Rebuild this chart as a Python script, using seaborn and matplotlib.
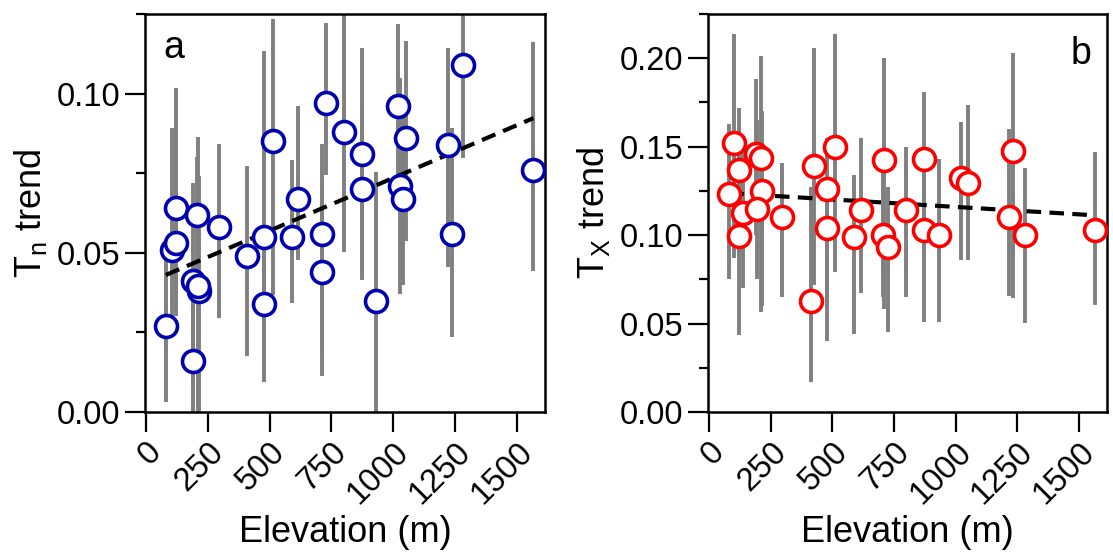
import numpy as np
import pandas as pd
import seaborn as sns
import matplotlib.pyplot as plt
from matplotlib.ticker import MultipleLocator, FormatStrFormatter

# ---------------------------------------------------------------
# Data: station elevation (m), trend and its interval
# ---------------------------------------------------------------
elev_tn = [80, 120, 208, 295, 104, 121, 189, 216, 212, 189, 410, 479, 479, 515, 616, 589,
           711, 711, 727, 801, 873, 873, 930, 1018, 1050, 1027, 1041, 1284, 1220, 1237, 1567]
tn_trend = [0.027, 0.064, 0.062, 0.058, 0.051, 0.053, 0.041, 0.038, 0.0396, 0.016, 0.049, 0.055,
            0.034, 0.085, 0.067, 0.055, 0.056, 0.044, 0.097, 0.088, 0.081, 0.070, 0.035, 0.096,
            0.086, 0.071, 0.067, 0.109, 0.084, 0.056, 0.076]
tn_lo = [0.003, 0.037, 0.045, 0.0296, 0.030, 0.030, 0.010, -0.005, -0.005, -0.010, 0.0176, 0.0095,
         0.012, 0.0368, 0.0478, 0.0343, 0.0114, 0.020, 0.0745, 0.0504, 0.0415, 0.045, -0.010, 0.0703,
         0.0536, 0.037, 0.040, 0.0798, 0.0455, 0.0235, 0.0444]
tn_hi = [0.051, 0.1016, 0.080, 0.0843, 0.0893, 0.0944, 0.072, 0.0742, 0.0865, 0.045, 0.0774, 0.1133,
         0.058, 0.1233, 0.0962, 0.0792, 0.0842, 0.070, 0.1222, 0.130, 0.1144, 0.095, 0.0753, 0.1217,
         0.1164, 0.105, 0.095, 0.135, 0.1144, 0.0892, 0.1163]

elev_tx = [82, 102, 122, 122, 136, 192, 210, 214, 196, 297, 414, 425, 479, 479, 512, 590, 616,
           710, 707, 725, 798, 871, 871, 931, 1023, 1050, 1215, 1234, 1281, 1565]
tx_trend = [0.1235, 0.152, 0.137, 0.0993, 0.1126, 0.1456, 0.1437, 0.125, 0.115, 0.110, 0.063, 0.139,
            0.126, 0.104, 0.150, 0.099, 0.1144, 0.1424, 0.100, 0.0933, 0.1144, 0.1433, 0.103, 0.100,
            0.1324, 0.1295, 0.110, 0.1475, 0.1003, 0.1027]
tx_lo = [0.0754, 0.0873, 0.090, 0.0436, 0.070, 0.100, 0.0568, 0.060, 0.075, 0.065, 0.017, 0.072,
         0.040, 0.060, 0.0789, 0.044, 0.067, 0.058, 0.065, 0.045, 0.065, 0.105, 0.051, 0.051,
         0.0857, 0.0857, 0.0653, 0.0646, 0.0504, 0.0606]
tx_hi = [0.1626, 0.2136, 0.172, 0.150, 0.155, 0.188, 0.2013, 0.170, 0.165, 0.141, 0.127, 0.2057,
         0.155, 0.148, 0.2136, 0.134, 0.155, 0.200, 0.135, 0.127, 0.1496, 0.181, 0.150, 0.1433,
         0.1637, 0.1735, 0.1598, 0.203, 0.1377, 0.147]

x_ticks = [0, 250, 500, 750, 1000, 1250, 1500]

df_tn = pd.DataFrame({"elev": elev_tn, "trend": tn_trend, "lo": tn_lo, "hi": tn_hi})
df_tx = pd.DataFrame({"elev": elev_tx, "trend": tx_trend, "lo": tx_lo, "hi": tx_hi})

# ---------------------------------------------------------------
# Style
# ---------------------------------------------------------------
sns.set_style("ticks")
plt.rcParams['font.family'] = ['Liberation Sans', 'DejaVu Sans']
plt.rcParams['mathtext.default'] = 'regular'
for key in ['text.color', 'axes.labelcolor', 'xtick.color', 'ytick.color', 'axes.edgecolor']:
    plt.rcParams[key] = 'black'

fig = plt.figure(figsize=(11.13, 5.55), dpi=100)
ax_a = fig.add_axes([0.1303, 0.2577, 0.3594, 0.7171])
ax_b = fig.add_axes([0.6361, 0.2577, 0.3585, 0.7171])


def draw_panel(ax, df, color, ylab, ymax, letter, letter_pos):
    # intervalos (barras cinzas)
    ax.vlines(df["elev"], df["lo"], df["hi"], color="#808080", lw=2.8, zorder=1)
    # reta de regressão tracejada
    sns.regplot(data=df, x="elev", y="trend", ax=ax, scatter=False, ci=None,
                line_kws=dict(color="black", lw=3, ls=(0, (3.5, 2)), zorder=2))
    # círculos abertos
    sns.scatterplot(data=df, x="elev", y="trend", ax=ax, marker="o", s=250,
                    facecolor="white", edgecolor=color, linewidth=2.6, zorder=3)

    ax.set_xlim(-4, 1614)
    ax.set_ylim(0, ymax)
    ax.set_xticks(x_ticks)
    ax.set_xticklabels([str(t) for t in x_ticks], rotation=45, ha="right",
                       rotation_mode="anchor")
    ax.yaxis.set_major_locator(MultipleLocator(0.05))
    ax.yaxis.set_minor_locator(MultipleLocator(0.025))
    ax.yaxis.set_major_formatter(FormatStrFormatter("%.2f"))
    ax.tick_params(axis="both", which="major", length=14.5, width=1.6, labelsize=23.5, pad=3)
    ax.tick_params(axis="y", which="minor", length=6.5, width=1.6)
    for sp in ax.spines.values():
        sp.set_linewidth(1.8)
    ax.set_xlabel("Elevation (m)", fontsize=26, labelpad=4)
    ax.set_ylabel(ylab, fontsize=26, labelpad=6)
    ax.text(letter_pos[0], letter_pos[1], letter, transform=ax.transAxes,
            fontsize=27, ha=letter_pos[2], va="top")


draw_panel(ax_a, df_tn, "#0000B0", r"T$_{n}$ trend", 0.125, "a", (0.045, 0.96, "left"))
draw_panel(ax_b, df_tx, "#FF0000", r"T$_{X}$ trend", 0.225, "b", (0.96, 0.945, "right"))

fig.savefig("out.png", dpi=100)
